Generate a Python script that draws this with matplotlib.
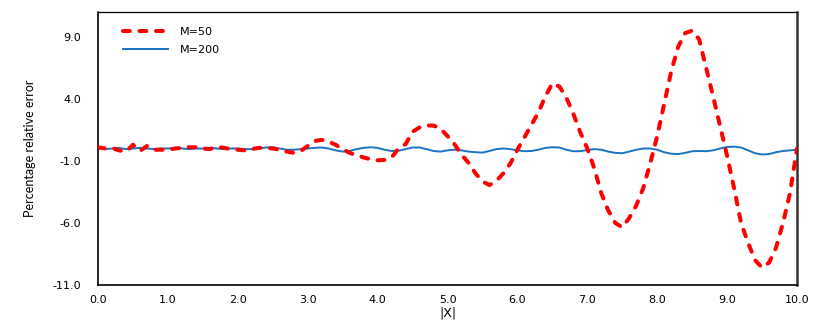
import matplotlib
matplotlib.use("Agg")
import matplotlib.pyplot as plt
import numpy as np

x_values = [round(0.1 * i, 1) for i in range(101)]

m50_values = [
    0.10, 0.00, 0.05, -0.15, -0.25, 0.30, -0.20, 0.20, -0.10, -0.10,
    -0.10, 0.00, 0.05, 0.10, 0.10, 0.00, -0.05, 0.15, 0.05, -0.05,
    -0.10, -0.15, -0.05, 0.05, 0.05, 0.00, -0.10, -0.25, -0.35, -0.20,
    0.20, 0.60, 0.70, 0.55, 0.30, -0.05, -0.35, -0.55, -0.72, -0.87,
    -0.95, -0.92, -0.72, 0.00, 0.35, 1.35, 1.70, 1.85, 1.85, 1.60,
    1.00, 0.35, -0.50, -1.15, -2.00, -2.65, -2.95, -2.60, -2.00, -1.20,
    -0.10, 0.90, 1.90, 2.90, 4.20, 5.25, 5.00, 4.10, 2.80, 1.30,
    0.00, -1.60, -3.60, -5.00, -6.00, -6.35, -5.60, -4.60, -3.20, -1.20,
    1.00, 3.60, 6.20, 8.20, 9.30, 9.50, 8.80, 6.50, 4.20, 1.80,
    -0.60, -3.20, -6.00, -7.60, -9.00, -9.60, -9.20, -8.00, -6.00, -3.60,
    0.00,
]

m200_values = [
    0.00, -0.05, 0.00, 0.05, -0.05, 0.00, 0.05, 0.00, -0.05, 0.00,
    0.00, 0.05, 0.00, -0.05, 0.00, 0.00, 0.05, 0.00, -0.05, 0.00,
    0.00, -0.05, -0.05, 0.00, 0.08, 0.10, 0.00, -0.10, -0.10, -0.05,
    0.00, 0.05, 0.08, 0.00, -0.15, -0.25, -0.20, -0.05, 0.05, 0.10,
    0.05, -0.10, -0.20, -0.18, -0.05, 0.08, 0.08, -0.05, -0.20, -0.25,
    -0.15, -0.10, -0.15, -0.25, -0.30, -0.33, -0.20, -0.05, 0.00, -0.05,
    -0.15, -0.22, -0.20, -0.10, 0.05, 0.10, 0.08, -0.10, -0.22, -0.22,
    -0.12, -0.05, -0.10, -0.25, -0.35, -0.38, -0.25, -0.10, 0.00, 0.00,
    -0.10, -0.30, -0.42, -0.45, -0.35, -0.22, -0.20, -0.22, -0.15, 0.00,
    0.12, 0.15, 0.08, -0.15, -0.38, -0.48, -0.45, -0.30, -0.20, -0.15,
    -0.10,
]

series_labels = ["M=50", "M=200"]
x_ticks = [0.0, 1.0, 2.0, 3.0, 4.0, 5.0, 6.0, 7.0, 8.0, 9.0, 10.0]
y_ticks = [-11.0, -6.0, -1.0, 4.0, 9.0]
x_label = "|X|"
y_label = "Percentage relative error"

fig = plt.figure(figsize=(8.3, 3.24), dpi=100)
ax = fig.add_axes([98 / 830, 1 - 285 / 324, (797 - 98) / 830, (285 - 12) / 324])

ax.plot(x_values, m200_values, color="#1a74c4", lw=1.4, label=series_labels[1], zorder=2)
ax.plot(x_values, m50_values, color="#ff0000", lw=2.9, dashes=(1.7, 2.4),
        label=series_labels[0], zorder=3, dash_capstyle="round")

ax.set_xlim(0, 10)
ax.set_ylim(-11, 11)
ax.set_xticks(x_ticks)
ax.set_xticklabels([f"{v:.1f}" for v in x_ticks])
ax.set_yticks(y_ticks)
ax.set_yticklabels([f"{v:.1f}" for v in y_ticks])
ax.tick_params(axis="both", length=0, labelsize=8, colors="#000000")
ax.tick_params(axis="y", pad=12)
ax.tick_params(axis="x", pad=7)

for s in ["left", "bottom", "top"]:
    ax.spines[s].set_color("#000000")
    ax.spines[s].set_linewidth(1.2)
ax.spines["top"].set_linewidth(0.9)
ax.spines["right"].set_color("#333333")
ax.spines["right"].set_linewidth(1.8)

ax.set_xlabel(x_label, fontsize=9, labelpad=1)
ax.set_ylabel(y_label, fontsize=9, family=["Liberation Sans Narrow", "Lato", "DejaVu Sans"],
              labelpad=12)

handles, labels = ax.get_legend_handles_labels()
order = [1, 0]
leg = ax.legend([handles[i] for i in order], [labels[i] for i in order],
                loc="upper left", bbox_to_anchor=(0.036, 0.945), frameon=False,
                fontsize=8, handlelength=4.0, handletextpad=1.1, labelspacing=0.7,
                borderpad=0, borderaxespad=0)

fig.savefig("out.png", dpi=100)
